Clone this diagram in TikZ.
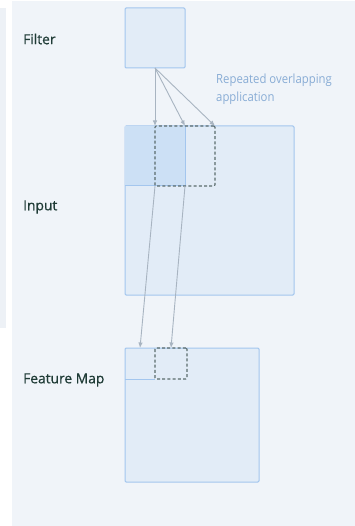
\documentclass[tikz,border=0pt]{standalone}
\usepackage{fontspec}
\setmainfont{Open Sans}
\newfontfamily\labelfont[FakeBold=0.6]{Open Sans}
\newfontfamily\notefont[FakeStretch=0.9]{Open Sans}
\usetikzlibrary{arrows.meta}
\definecolor{panelbg}{HTML}{F0F4F9}
\definecolor{stripbg}{HTML}{EDF1F6}
\definecolor{boxfill}{HTML}{E2ECF7}
\definecolor{boxline}{HTML}{A3C6EE}
\definecolor{patchfill}{HTML}{CCE0F5}
\definecolor{winline}{HTML}{5A6B6C}
\definecolor{arrowgrey}{HTML}{A8B4C1}
\definecolor{labeltext}{HTML}{1F3B36}
\definecolor{notetext}{HTML}{88ACD5}
\tikzset{
  grid/.style={draw=boxline, fill=boxfill, line width=1pt, rounded corners=1.2pt,
    inner sep=0pt, outer sep=0pt},
  patch/.style={fill=patchfill, inner sep=0pt, outer sep=0pt},
  window/.style={draw=winline, line width=1.1pt, dash pattern=on 3pt off 2.2pt,
    rounded corners=1.2pt, inner sep=0pt, outer sep=0pt},
  flow/.style={draw=arrowgrey, line width=0.9pt, -{Latex[length=5.5pt,width=4.5pt]}},
  rowlabel/.style={anchor=west, text=labeltext, font=\labelfont\fontsize{13.8}{15}\selectfont, inner sep=0pt},
  note/.style={anchor=north west, text=notetext, font=\notefont\fontsize{12.6}{18}\selectfont,
    align=left, inner sep=0pt}
}
\begin{document}
\begin{tikzpicture}[x=1pt, y=-1pt]
  % canvas
  \useasboundingbox (0,0) rectangle (355,526);
  \fill[white] (0,0) rectangle (355,526);
  \fill[stripbg] (0,8) rectangle (5.5,328);
  \fill[panelbg] (12,1) rectangle (355,526);

  % filter
  \node[grid, minimum width=60pt, minimum height=60pt] (filter) at (155,38) {};

  % input with the first patch and the shifted window
  \node[grid, minimum width=169pt, minimum height=169pt] (input) at (209.5,210.5) {};
  \node[patch, minimum width=60pt, minimum height=60pt] (patch) at (155,156) {};
  \draw[boxline, line width=1pt] (patch.north east) -- (patch.south east) -- (patch.south west);
  \node[window, minimum width=60pt, minimum height=60pt] (win) at (185,156) {};

  % feature map with its two output cells
  \node[grid, minimum width=134pt, minimum height=134pt] (fmap) at (192,415) {};
  \node[inner sep=0pt, outer sep=0pt, minimum width=30pt, minimum height=31pt] (cellA) at (140,363.5) {};
  \draw[boxline, line width=1pt] (cellA.south west) -- (cellA.south east);
  \node[window, minimum width=32pt, minimum height=31pt] (cellB) at (171,363.5) {};

  % connectors
  \draw[flow] (filter.south) -- (patch.north);
  \draw[flow] (filter.south) -- (win.north);
  \draw[flow] (filter.south) -- (win.north east);
  \draw[flow] (patch.south) -- (cellA.north);
  \draw[flow] (win.south) -- (cellB.north);

  % labels
  \node[rowlabel] (lfilter) at (23,39) {Filter};
  \node[rowlabel] (linput) at (23,207) {Input};
  \node[rowlabel] (lfmap) at (23,380) {Feature Map};
  \node[note] (lnote) at (216,73.5) {Repeated overlapping\\application};
\end{tikzpicture}
\end{document}
